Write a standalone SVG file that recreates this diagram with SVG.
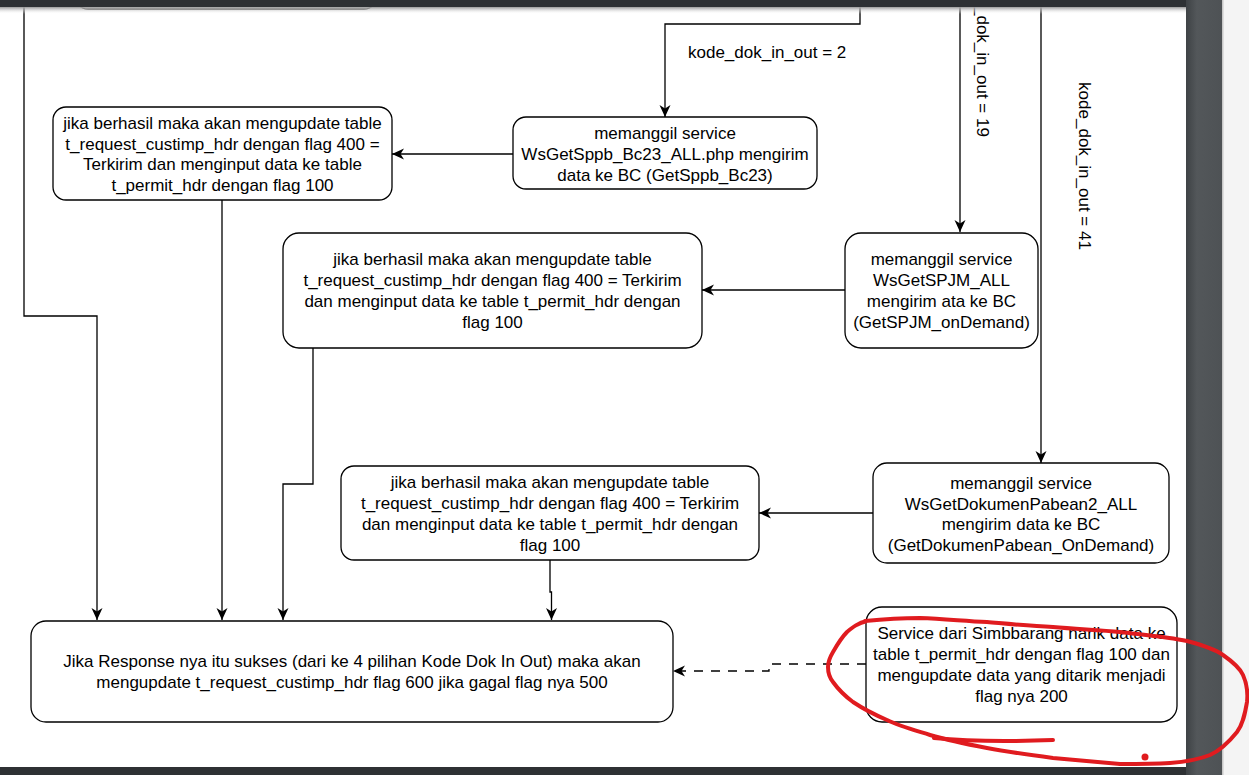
<svg xmlns="http://www.w3.org/2000/svg" width="1249" height="775" viewBox="0 0 1249 775">
<style>
.box{fill:#ffffff;stroke:#000000;stroke-width:1.3}
.t{font-family:"Liberation Sans",Arial,sans-serif;font-size:17px;fill:#000000;text-anchor:middle}
.lbl{font-family:"Liberation Sans",Arial,sans-serif;font-size:17px;fill:#000000}
.c{fill:none;stroke:#000000;stroke-width:1.3}
.d{fill:none;stroke:#000000;stroke-width:1.3;stroke-dasharray:9 8}
.red{fill:none;stroke:#e01b1f;stroke-width:4;stroke-linecap:round;stroke-linejoin:round}
</style>
<defs>
<marker id="arr" viewBox="0 0 12 12" refX="12" refY="6" markerWidth="12" markerHeight="12" markerUnits="userSpaceOnUse" orient="auto">
<path d="M12 6 L0 0.5 L3.5 6 L0 11.5 Z" fill="#000000"/>
</marker>
<linearGradient id="sh" x1="0" y1="0" x2="0" y2="1">
<stop offset="0" stop-color="#9a9a9a"/>
<stop offset="1" stop-color="#ffffff" stop-opacity="0"/>
</linearGradient>
<linearGradient id="strip" x1="0" y1="0" x2="1" y2="0">
<stop offset="0" stop-color="#3e4245"/>
<stop offset="0.3" stop-color="#53575a"/>
<stop offset="1" stop-color="#4e5255"/>
</linearGradient>
</defs>
<rect x="0" y="0" width="1249" height="775" fill="#ffffff"/>

<g id="connectors">
<path class="c" d="M24 0 L24 316 L97 316 L97 620" marker-end="url(#arr)"/>
<path class="c" d="M222 200 L222 620" marker-end="url(#arr)"/>
<path class="c" d="M313 348 L313 484 L283 484 L283 620" marker-end="url(#arr)"/>
<path class="c" d="M550 560 L550 592 L551.5 592 L551.5 620" marker-end="url(#arr)"/>
<path class="c" d="M860 0 L860 24 L665 24 L665 117" marker-end="url(#arr)"/>
<path class="c" d="M960 0 L960 232" marker-end="url(#arr)"/>
<path class="c" d="M1041 0 L1041 463" marker-end="url(#arr)"/>
<path class="c" d="M513 154 L392 154" marker-end="url(#arr)"/>
<path class="c" d="M845 290 L702 290" marker-end="url(#arr)"/>
<path class="c" d="M873 513 L759 513" marker-end="url(#arr)"/>
<path class="d" d="M866 664 L769 664 L769 671 L673 671" marker-end="url(#arr)"/>
<text class="lbl" x="688" y="58">kode_dok_in_out = 2</text>
<text class="lbl" text-anchor="middle" transform="translate(977 53) rotate(90)">kode_dok_in_out = 19</text>
<text class="lbl" text-anchor="middle" transform="translate(1079 166) rotate(90)">kode_dok_in_out = 41</text>
</g>

<g id="node-top">
<rect class="box" x="75" y="-40" width="302" height="49" rx="13"/>
</g>

<g id="node-update1">
<rect class="box" x="53" y="107" width="339" height="93" rx="13"/>
<text class="t" x="222.5" y="129">jika berhasil maka akan mengupdate table</text>
<text class="t" x="222.5" y="149.5">t_request_custimp_hdr dengan flag 400 =</text>
<text class="t" x="222.5" y="170">Terkirim dan menginput data ke table</text>
<text class="t" x="222.5" y="190.5">t_permit_hdr dengan flag 100</text>
</g>

<g id="node-bc23">
<rect class="box" x="513" y="117" width="304" height="72" rx="13"/>
<text class="t" x="665" y="139">memanggil service</text>
<text class="t" x="665" y="160">WsGetSppb_Bc23_ALL.php mengirim</text>
<text class="t" x="665" y="181">data ke BC (GetSppb_Bc23)</text>
</g>

<g id="node-update2">
<rect class="box" x="283" y="233" width="419" height="115" rx="16"/>
<text class="t" x="492.5" y="265">jika berhasil maka akan mengupdate table</text>
<text class="t" x="492.5" y="286">t_request_custimp_hdr dengan flag 400 = Terkirim</text>
<text class="t" x="492.5" y="307">dan menginput data ke table t_permit_hdr dengan</text>
<text class="t" x="492.5" y="327.5">flag 100</text>
</g>

<g id="node-spjm">
<rect class="box" x="845" y="233" width="193" height="115" rx="16"/>
<text class="t" x="941.5" y="265">memanggil service</text>
<text class="t" x="941.5" y="286">WsGetSPJM_ALL</text>
<text class="t" x="941.5" y="307">mengirim ata ke BC</text>
<text class="t" x="941.5" y="327.5">(GetSPJM_onDemand)</text>
</g>

<g id="node-update3">
<rect class="box" x="341" y="466" width="418" height="94" rx="13"/>
<text class="t" x="550" y="488">jika berhasil maka akan mengupdate table</text>
<text class="t" x="550" y="509">t_request_custimp_hdr dengan flag 400 = Terkirim</text>
<text class="t" x="550" y="530">dan menginput data ke table t_permit_hdr dengan</text>
<text class="t" x="550" y="550.5">flag 100</text>
</g>

<g id="node-pabean">
<rect class="box" x="873" y="463" width="296" height="100" rx="14"/>
<text class="t" x="1021" y="489">memanggil service</text>
<text class="t" x="1021" y="509.5">WsGetDokumenPabean2_ALL</text>
<text class="t" x="1021" y="530">mengirim data ke BC</text>
<text class="t" x="1021" y="550.5">(GetDokumenPabean_OnDemand)</text>
</g>

<g id="node-result">
<rect class="box" x="31" y="621" width="642" height="101" rx="15"/>
<text class="t" x="352" y="667">Jika Response nya itu sukses (dari ke 4 pilihan Kode Dok In Out) maka akan</text>
<text class="t" x="352" y="688">mengupdate t_request_custimp_hdr flag 600 jika gagal flag nya 500</text>
</g>

<g id="node-simbbarang">
<rect class="box" x="866" y="607" width="311" height="115" rx="16"/>
<text class="t" x="1021.5" y="639">Service dari Simbbarang narik data ke</text>
<text class="t" x="1021.5" y="660">table t_permit_hdr dengan flag 100 dan</text>
<text class="t" x="1021.5" y="681">mengupdate data yang ditarik menjadi</text>
<text class="t" x="1021.5" y="702">flag nya 200</text>
</g>

<g id="chrome">
<rect x="0" y="7" width="1186" height="7" fill="url(#sh)"/>
<rect x="0" y="0" width="1222" height="7" fill="#2e3134"/>
<rect x="1186" y="0" width="36" height="775" fill="url(#strip)"/>
<rect x="1222" y="0" width="27" height="775" fill="#f4f4f4"/>
<rect x="1222" y="0" width="1.5" height="775" fill="#c8c8c8"/>
<rect x="0" y="767" width="1186" height="8" fill="#2e3134"/>
</g>

<g id="annotation">
<path class="red" d="M865 621 C885 619 900 618 920 618 C945 619 965 621 987 622 C1010 624 1030 626 1053 627 C1075 629 1098 630 1120 632 C1145 635 1168 637 1187 641 C1202 645 1215 649 1223 655 C1233 662 1240 668 1243 675 C1247 684 1248 693 1247 702 C1245 714 1243 724 1237 732 C1229 742 1221 750 1210 755 C1197 760 1184 762 1170 763 C1153 764 1137 764 1120 764 C1097 762 1075 760 1053 758 C1030 755 1008 752 987 748 C966 744 947 740 930 735 C914 730 899 726 887 720 C873 714 862 708 853 702 C845 696 838 689 833 682 C829 677 828 672 828 667 C828 661 830 657 833 652 C837 645 841 638 847 632 C853 627 858 623 867 621"/>
<path class="red" stroke-width="5" d="M934 738 C965 741 1000 742 1053 740"/>
<circle cx="1145" cy="757" r="3.5" fill="#e01b1f"/>
</g>
</svg>
